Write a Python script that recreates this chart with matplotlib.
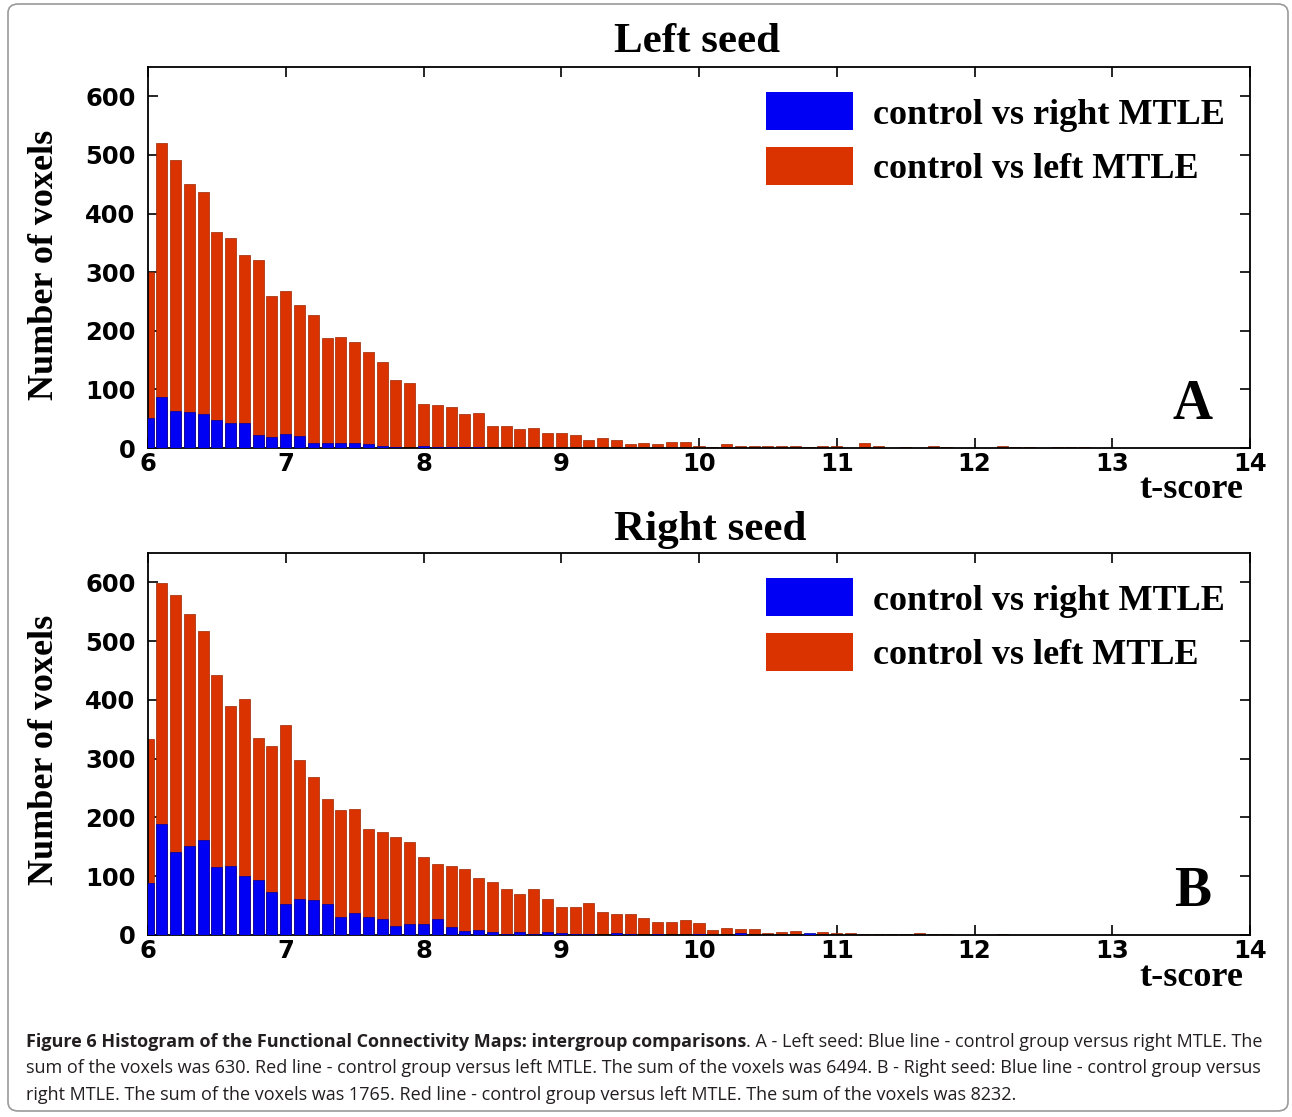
import numpy as np
import matplotlib
matplotlib.use("Agg")
import matplotlib.pyplot as plt
from matplotlib.patches import Patch, FancyBboxPatch

# bin centres (t-score), 0.1 wide bins starting at 6.0
t_bins = np.round(np.arange(6.0, 13.0, 0.1), 1)

# Panel A - Left seed
left_red = [300, 521, 491, 450, 436, 368, 358, 330, 321, 259,
            268, 244, 227, 187, 189, 180, 164, 146, 116, 111,
            75, 73, 70, 58, 60, 38, 38, 32, 34, 25,
            25, 23, 13, 17, 13, 6, 8, 6, 10, 10,
            4, 2, 6, 3, 3, 3, 3, 3, 1, 3,
            3, 0, 8, 3, 0, 1, 0, 3, 2, 0,
            0, 0, 4, 2, 2, 0, 2, 2, 2, 0]
left_blue = [52, 87, 63, 62, 58, 48, 42, 42, 22, 18,
             24, 20, 8, 8, 8, 8, 7, 3, 1, 0,
             3, 2, 2, 1, 2, 0, 0, 0, 0, 0,
             0, 0, 0, 0, 0, 0, 0, 0, 0, 0,
             0, 0, 0, 0, 0, 0, 0, 0, 0, 0,
             0, 0, 0, 0, 0, 0, 0, 0, 0, 0,
             0, 0, 0, 0, 0, 0, 0, 0, 0, 0]

# Panel B - Right seed
right_red = [334, 599, 579, 546, 518, 443, 390, 401, 335, 322,
             358, 297, 269, 231, 213, 215, 181, 175, 166, 158,
             133, 120, 117, 112, 97, 90, 78, 70, 79, 61,
             48, 48, 54, 39, 36, 35, 29, 22, 22, 26,
             20, 9, 12, 11, 11, 3, 5, 7, 2, 5,
             3, 3, 1, 1, 1, 2, 3, 2, 1, 0,
             0, 0, 2, 0, 0, 0, 0, 0, 0, 0]
right_blue = [88, 189, 142, 152, 161, 116, 118, 101, 93, 74,
              53, 61, 59, 53, 31, 38, 31, 28, 16, 19,
              19, 28, 13, 6, 9, 5, 2, 5, 2, 5,
              3, 1, 2, 0, 4, 2, 0, 1, 0, 0,
              2, 0, 0, 3, 0, 0, 0, 0, 3, 0,
              0, 0, 0, 0, 0, 0, 0, 0, 0, 0,
              0, 0, 0, 0, 0, 0, 0, 0, 0, 0]

x_ticks = [6, 7, 8, 9, 10, 11, 12, 13, 14]
y_ticks = [0, 100, 200, 300, 400, 500, 600]
legend_labels = ["control vs right MTLE", "control vs left MTLE"]
titles = ["Left seed", "Right seed"]
panel_letters = ["A", "B"]

RED = "#DA3300"
BLUE = "#0000F5"
SERIF = "Liberation Serif"

W, H = 1292, 1117
fig = plt.figure(figsize=(W / 100, H / 100), dpi=100)

# rounded frame around the whole figure
frame = FancyBboxPatch((8 / W, 6 / H), (W - 12) / W, (H - 10) / H,
                       boxstyle="round,pad=0,rounding_size=0.008",
                       transform=fig.transFigure, fill=False,
                       edgecolor="#9a9a9a", linewidth=1.2)
fig.patches.append(frame)

axes_px = [(148, 67, 1250, 448), (148, 553, 1250, 935)]
data = [(left_red, left_blue), (right_red, right_blue)]
title_pos = [(697, 42), (710, 530)]
ylabel_y = [265, 750]

for i, (l, t, r, b) in enumerate(axes_px):
    ax = fig.add_axes([l / W, 1 - b / H, (r - l) / W, (b - t) / H])
    red, blue = data[i]
    ax.bar(t_bins, red, width=0.08, color=RED, edgecolor="#9c2400",
           linewidth=0.5, zorder=2)
    ax.bar(t_bins, blue, width=0.08, color=BLUE, edgecolor="#0000a0",
           linewidth=0.5, zorder=3)
    ax.set_xlim(6, 14)
    ax.set_ylim(0, 650)
    ax.set_xticks(x_ticks)
    ax.set_yticks(y_ticks)
    ax.tick_params(direction="in", length=7, width=1.2, top=True, right=True,
                   labelsize=17.5)
    ax.tick_params(axis="y", pad=9)
    ax.tick_params(axis="x", pad=3)
    for lab in ax.get_xticklabels() + ax.get_yticklabels():
        lab.set_fontweight("bold")
        lab.set_family("DejaVu Sans")
    for sp in ax.spines.values():
        sp.set_linewidth(1.3)

    handles = [Patch(facecolor=BLUE, edgecolor="none"),
               Patch(facecolor=RED, edgecolor="none")]
    ax.legend(handles, legend_labels, loc="upper right", frameon=False,
              prop={"family": SERIF, "weight": "bold", "size": 26},
              handlelength=2.4, handleheight=1.25, handletextpad=0.55,
              labelspacing=0.42, borderaxespad=0.5, borderpad=0.2)

    ax.text(0.948, 0.113, panel_letters[i], transform=ax.transAxes,
            ha="center", va="center", family=SERIF, weight="bold", fontsize=40)
    ax.text(0.994, -0.11, "t-score", transform=ax.transAxes, ha="right",
            va="center", family=SERIF, weight="bold", fontsize=26)

    tx, ty = title_pos[i]
    fig.text(tx / W, 1 - ty / H, titles[i], ha="center", va="center",
             family=SERIF, weight="bold", fontsize=31)
    fig.text(45 / W, 1 - ylabel_y[i] / H, "Number of voxels", rotation=90,
             ha="center", va="center", family=SERIF, weight="bold",
             fontsize=26)

# caption
cap_font = ["Open Sans", "DejaVu Sans"]
cap_size = 13
t1 = fig.text(26 / W, 1 - 1047 / H,
              "Figure 6 Histogram of the Functional Connectivity Maps: intergroup comparisons",
              ha="left", va="baseline", family=cap_font, weight="bold",
              fontsize=cap_size, color="#231f20")
fig.canvas.draw()
bb = t1.get_window_extent()
fig.text(bb.x1 / W, 1 - 1047 / H,
         ". A - Left seed: Blue line - control group versus right MTLE. The",
         ha="left", va="baseline", family=cap_font, fontsize=cap_size,
         color="#231f20")
fig.text(26 / W, 1 - 1073 / H,
         "sum of the voxels was 630. Red line - control group versus left MTLE. The sum of the voxels was 6494. B - Right seed: Blue line - control group versus",
         ha="left", va="baseline", family=cap_font, fontsize=cap_size,
         color="#231f20")
fig.text(26 / W, 1 - 1100 / H,
         "right MTLE. The sum of the voxels was 1765. Red line - control group versus left MTLE. The sum of the voxels was 8232.",
         ha="left", va="baseline", family=cap_font, fontsize=cap_size,
         color="#231f20")

fig.savefig("out.png", dpi=100)
